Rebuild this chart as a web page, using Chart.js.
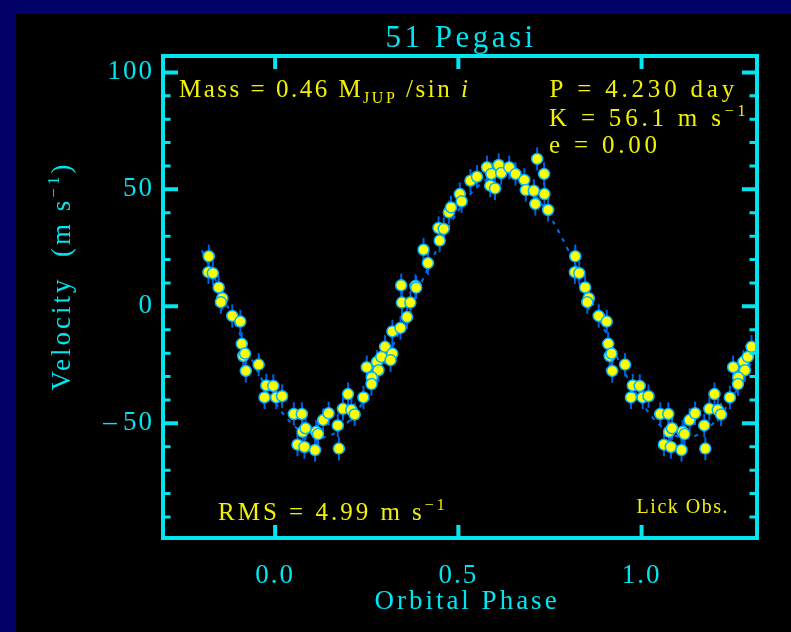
<!DOCTYPE html>
<html>
<head>
<meta charset="utf-8">
<script src="https://cdn.jsdelivr.net/npm/chart.js@4.4.0/dist/chart.umd.min.js"></script>
<style>
html, body { margin: 0; padding: 0; background: #000066; overflow: hidden; }
#plot { position: absolute; left: 16px; top: 14px; background: #000; }
</style>
</head>
<body>
<canvas id="plot" width="775" height="618"></canvas>
<script>
// radial velocity measurements, one orbit (phase 0..1)
const phases = [
    0.819, 0.818, 0.830, 0.846, 0.856, 0.852, 0.883, 0.905, 0.909, 0.913,
    0.918, 0.920, 0.955, 0.976, 0.995, 0.971, 0.003, 0.019, 0.051, 0.073,
    0.075, 0.083, 0.061, 0.080, 0.109, 0.112, 0.117, 0.131, 0.146, 0.171,
    0.174, 0.185, 0.199, 0.208, 0.217, 0.241, 0.250, 0.278, 0.282, 0.264,
    0.263, 0.300, 0.290, 0.320, 0.315, 0.320, 0.342, 0.344, 0.346, 0.360,
    0.369, 0.383, 0.385, 0.417, 0.405, 0.449, 0.446, 0.460, 0.474, 0.480,
    0.504, 0.509, 0.533, 0.551, 0.578, 0.590, 0.587, 0.600, 0.610, 0.617,
    0.639, 0.656, 0.680, 0.684, 0.706, 0.715, 0.734, 0.710, 0.735, 0.745
]
const velocities = [
    21.4, 14.6, 14.2, 8.1, 3.5, 1.8, -4.1, -6.5, -16.0, -21.2,
    -20.2, -27.6, -24.9, -33.8, -34.0, -38.9, -38.9, -38.4, -46.0, -46.0,
    -53.6, -52.1, -59.1, -60.1, -61.4, -53.6, -54.6, -48.6, -45.7, -50.9,
    -60.8, -43.8, -37.5, -44.3, -46.2, -38.9, -26.0, -23.7, -27.3, -30.4,
    -33.2, -17.3, -21.6, -20.2, -23.0, -10.7, -9.2, 9.0, 1.6, -4.6,
    1.6, 8.7, 8.0, 18.5, 24.2, 28.1, 33.5, 33.1, 40.2, 42.3,
    48.0, 44.9, 53.7, 55.4, 59.4, 56.6, 51.6, 50.4, 60.4, 57.0,
    59.4, 56.6, 54.0, 49.7, 49.4, 63.0, 56.6, 43.8, 48.0, 41.2
]
const velocityError = 5.0

// orbit fit (dashed line)
const fitPhases = [
    -0.20, -0.15, -0.10, -0.05, 0.00, 0.05, 0.10, 0.15, 0.20, 0.25, 0.30,
    0.35, 0.40, 0.45, 0.50, 0.55, 0.60, 0.65, 0.70, 0.75, 0.80,
    0.85, 0.90, 0.95, 1.00, 1.05, 1.10, 1.15, 1.20, 1.25, 1.30
]
const fitVelocities = [
    23.9, 7.0, -10.5, -27.0, -40.9, -50.8, -55.7, -55.1, -49.2, -38.4, -23.9,
    -7.0, 10.5, 27.0, 40.9, 50.8, 55.7, 55.1, 49.2, 38.4, 23.9,
    7.0, -10.5, -27.0, -40.9, -50.8, -55.7, -55.1, -49.2, -38.4, -23.9
]

const shownPhaseRange = [-0.2, 1.3]
const xRange = [-0.306, 1.315]
const yRange = [-99, 107]
const xTickValues = [0, 0.5, 1.0]
const yTickValues = [-50, 0, 50, 100]
const yMinorTickValues = [-90, -80, -70, -60, -40, -30, -20, -10, 10, 20, 30, 40, 60, 70, 80, 90]

const titleText = '51 Pegasi'
const xTitleParts = [['Orbital Phase']]
const yTitleParts = [['Velocity  (m s'], ['\u22121', 'sup'], [')']]
const massParts = [['Mass = 0.46 M'], ['JUP', 'sub'], [' /sin '], ['i', 'it']]
const periodParts = [['P = 4.230 day']]
const amplitudeParts = [['K = 56.1 m s'], ['\u22121', 'sup']]
const eccParts = [['e = 0.00']]
const rmsParts = [['RMS = 4.99 m s'], ['\u22121', 'sup']]
const siteParts = [['Lick Obs.']]

const CYAN = '#00e6f0'
const YELLOW = '#f2f200'
const FONT = '"Liberation Serif", "DejaVu Serif", serif'


// phase-folded points, with the wrapped copies shown outside 0..1
const points = []
phases.forEach(function (p, i) {
    [p - 1, p, p + 1].forEach(function (q) {
        if (q >= shownPhaseRange[0] && q <= shownPhaseRange[1]) {
            points.push({x: q, y: velocities[i]})
        }
    })
})
const fitLine = fitPhases.map(function (p, i) {return {x: p, y: fitVelocities[i]}})


function drawRich(ctx, parts, x, y, size, align, spacing) {
    const fontFor = function (part) {
        const small = part[1] === 'sup' || part[1] === 'sub'
        const style = part[1] === 'it' ? 'italic ' : ''
        return style + (small ? Math.round(size * 0.62) : size) + 'px ' + FONT
    }
    ctx.letterSpacing = spacing + 'px'
    const widths = parts.map(function (part) {
        ctx.font = fontFor(part)
        return ctx.measureText(part[0]).width
    })
    const total = widths.reduce(function (a, b) {return a + b}, 0)
    let cx = align === 'right' ? x - total : align === 'center' ? x - total / 2 : x
    ctx.textAlign = 'left'
    ctx.textBaseline = 'alphabetic'
    parts.forEach(function (part, i) {
        ctx.font = fontFor(part)
        let dy = 0
        if (part[1] === 'sup') dy = -size * 0.42
        if (part[1] === 'sub') dy = size * 0.22
        ctx.fillText(part[0], cx, y + dy)
        cx += widths[i]
    })
}


const errorBars = {
    id: 'errorBars',
    beforeDatasetDraw(chart, args) {
        if (args.index !== 0) return
        const {ctx, scales: {x, y}} = chart
        ctx.save()
        ctx.strokeStyle = 'rgb(0, 95, 225)'
        ctx.lineWidth = 2
        points.forEach(function (pt) {
            const px = x.getPixelForValue(pt.x)
            ctx.beginPath()
            ctx.moveTo(px, y.getPixelForValue(pt.y + velocityError))
            ctx.lineTo(px, y.getPixelForValue(pt.y - velocityError))
            ctx.stroke()
        })
        ctx.restore()
    },
}


const frame = {
    id: 'frame',
    beforeDraw(chart) {
        chart.ctx.letterSpacing = '2px'
    },
    afterDatasetsDraw(chart) {
        const {ctx, chartArea: a, scales: {x, y}} = chart
        ctx.save()
        ctx.strokeStyle = CYAN
        ctx.lineWidth = 4
        ctx.lineCap = 'square'
        ctx.strokeRect(a.left, a.top, a.right - a.left, a.bottom - a.top)
        ctx.beginPath()
        yTickValues.forEach(function (v) {
            const py = y.getPixelForValue(v)
            ctx.moveTo(a.left, py); ctx.lineTo(a.left + 13, py)
            ctx.moveTo(a.right, py); ctx.lineTo(a.right - 13, py)
        })
        xTickValues.forEach(function (v) {
            const px = x.getPixelForValue(v)
            ctx.moveTo(px, a.bottom); ctx.lineTo(px, a.bottom - 11)
            ctx.moveTo(px, a.top); ctx.lineTo(px, a.top + 11)
        })
        ctx.stroke()
        ctx.lineWidth = 3
        ctx.beginPath()
        yMinorTickValues.forEach(function (v) {
            const py = y.getPixelForValue(v)
            ctx.moveTo(a.left, py); ctx.lineTo(a.left + 6, py)
            ctx.moveTo(a.right, py); ctx.lineTo(a.right - 6, py)
        })
        ctx.stroke()
        ctx.restore()
    },
    afterDraw(chart) {
        const ctx = chart.ctx
        ctx.save()
        ctx.fillStyle = CYAN
        drawRich(ctx, [[titleText]], 445, 33, 31, 'center', 3.5)
        drawRich(ctx, xTitleParts, 451, 595, 27, 'center', 3)
        ctx.save()
        ctx.translate(44, 262)
        ctx.rotate(-Math.PI / 2)
        drawRich(ctx, yTitleParts, 0, 10, 27, 'center', 3)
        ctx.restore()

        ctx.fillStyle = YELLOW
        drawRich(ctx, massParts, 163, 83, 25, 'left', 2.5)
        drawRich(ctx, periodParts, 722, 83, 25, 'right', 3.8)
        drawRich(ctx, amplitudeParts, 533, 112, 25, 'left', 3.8)
        drawRich(ctx, eccParts, 533, 139, 25, 'left', 3.8)
        drawRich(ctx, rmsParts, 202, 506, 25, 'left', 3)
        drawRich(ctx, siteParts, 713, 499, 20, 'right', 1.5)
        ctx.restore()
    },
}


const config = {
    type: 'scatter',
    data: {
        datasets: [{
            label: 'Velocity',
            data: points,
            backgroundColor: '#ffff00',
            borderColor: 'rgb(0, 180, 255)',
            borderWidth: 1.5,
            pointRadius: 5.5,
        }, {
            label: 'Fit',
            data: fitLine,
            showLine: true,
            borderColor: 'rgb(0, 110, 235)',
            borderWidth: 2,
            borderDash: [4, 6],
            tension: 0.4,
            pointRadius: 0,
        }]
    },
    options: {
        responsive: false,
        animation: false,
        devicePixelRatio: 1,
        layout: {padding: {left: 0, top: 42, right: 34, bottom: 0}},
        plugins: {
            legend: {display: false},
            tooltip: {enabled: false},
        },
        scales: {
            x: {
                type: 'linear',
                min: xRange[0],
                max: xRange[1],
                grid: {display: false, drawTicks: false},
                border: {display: false},
                afterBuildTicks: function (scale) {
                    scale.ticks = xTickValues.map(function (v) {return {value: v}})
                },
                afterFit: function (scale) {scale.height = 94},
                ticks: {
                    color: CYAN,
                    padding: 22,
                    maxRotation: 0,
                    autoSkip: false,
                    font: {family: FONT, size: 27},
                    callback: function (v) {return v.toFixed(1)},
                },
            },
            y: {
                type: 'linear',
                min: yRange[0],
                max: yRange[1],
                grid: {display: false, drawTicks: false},
                border: {display: false},
                afterBuildTicks: function (scale) {
                    scale.ticks = yTickValues.map(function (v) {return {value: v}})
                },
                afterFit: function (scale) {scale.width = 147},
                ticks: {
                    color: CYAN,
                    padding: 9,
                    autoSkip: false,
                    font: {family: FONT, size: 27},
                    callback: function (v) {return v < 0 ? '\u2013\u200a' + Math.abs(v) : String(v)},
                },
            },
        },
    },
    plugins: [errorBars, frame],
}

const plot = new Chart(document.querySelector('#plot'), config)
</script>
</body>
</html>
